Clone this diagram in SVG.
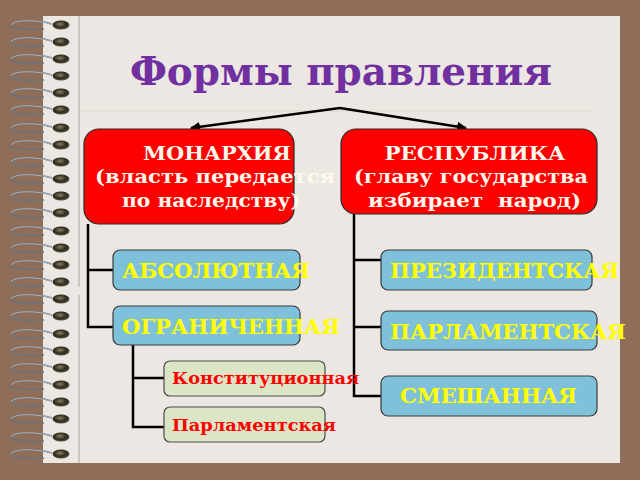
<svg xmlns="http://www.w3.org/2000/svg" xmlns:xlink="http://www.w3.org/1999/xlink" width="640" height="480" viewBox="0 0 640 480">
<style>
.t{font-family:"DejaVu Serif","Liberation Serif",serif;font-weight:bold}
.red{fill:#FF0000;stroke:#2a2a2a;stroke-width:1.2}
.blue{fill:#7FC1DB;stroke:#3a3a3a;stroke-width:1.2}
.green{fill:#DCE6C6;stroke:#4a4a4a;stroke-width:1.2}
.w{fill:#FFF8EC;font-size:19px}
.y{fill:#FFFF00;font-size:20.5px}
.r{fill:#FF0000;font-size:16.5px}
.ln{fill:none;stroke:#000;stroke-width:2.5}
</style>
<defs>
<radialGradient id="bead" cx="0.45" cy="0.4" r="0.6">
<stop offset="0" stop-color="#8a8060"/>
<stop offset="0.6" stop-color="#2e2a1e"/>
<stop offset="1" stop-color="#5a5444"/>
</radialGradient>
<marker id="ah" viewBox="0 0 10 10" refX="9" refY="5" markerWidth="4" markerHeight="4" orient="auto">
<path d="M0,0 L10,5 L0,10 z" fill="#000"/>
</marker>
<g id="ring">
<path d="M52,-1 C38,-5 14,-6 11,0 C9,4 30,5 44,4" fill="none" stroke="#6b7377" stroke-width="1.6"/>
<path d="M52,-1 C38,-5 14,-6 11,0" fill="none" stroke="#b8c4c8" stroke-width="0.8"/>
<ellipse cx="61" cy="0" rx="8.5" ry="4.5" fill="url(#bead)"/>
</g>
</defs>
<rect width="640" height="480" fill="#8E6D59"/>
<rect x="43" y="16" width="577" height="447" fill="#ECE7E3"/>
<line x1="79" y1="16" x2="79" y2="287" stroke="#C6C6C6" stroke-width="2"/>
<line x1="79" y1="295" x2="79" y2="463" stroke="#C6C6C6" stroke-width="2"/>
<line x1="80" y1="111" x2="590" y2="111" stroke="#E2D9C9" stroke-width="1"/>
<g id="spiral">
<use xlink:href="#ring" y="25"/><use xlink:href="#ring" y="42"/><use xlink:href="#ring" y="59"/><use xlink:href="#ring" y="76"/><use xlink:href="#ring" y="93"/><use xlink:href="#ring" y="110"/><use xlink:href="#ring" y="128"/><use xlink:href="#ring" y="145"/><use xlink:href="#ring" y="162"/><use xlink:href="#ring" y="179"/><use xlink:href="#ring" y="196"/><use xlink:href="#ring" y="213"/><use xlink:href="#ring" y="231"/><use xlink:href="#ring" y="248"/><use xlink:href="#ring" y="265"/><use xlink:href="#ring" y="282"/><use xlink:href="#ring" y="299"/><use xlink:href="#ring" y="316"/><use xlink:href="#ring" y="334"/><use xlink:href="#ring" y="351"/><use xlink:href="#ring" y="368"/><use xlink:href="#ring" y="385"/><use xlink:href="#ring" y="402"/><use xlink:href="#ring" y="419"/><use xlink:href="#ring" y="437"/><use xlink:href="#ring" y="454"/>
</g>
<text class="t" x="341" y="85" text-anchor="middle" font-size="40" fill="#7030A0" textLength="422" lengthAdjust="spacingAndGlyphs">Формы правления</text>
<g id="connectors">
<path class="ln" d="M340,108 L191,128" marker-end="url(#ah)"/>
<path class="ln" d="M340,108 L466,128" marker-end="url(#ah)"/>
<path class="ln" d="M88,224 V327 H113 M88,270 H113"/>
<path class="ln" d="M133,345 V427 H164 M133,378 H164"/>
<path class="ln" d="M354,214 V396 H381 M354,260 H381 M354,327 H381"/>
</g>
<g id="monarchy">
<rect class="red" x="84" y="129" width="210" height="95" rx="15"/>
<text class="t w" x="217" y="160" text-anchor="middle" textLength="148" lengthAdjust="spacingAndGlyphs">МОНАРХИЯ</text>
<text class="t w" x="95" y="183" textLength="240" lengthAdjust="spacingAndGlyphs">(власть передается</text>
<text class="t w" x="122" y="207" textLength="178" lengthAdjust="spacingAndGlyphs">по наследству)</text>
</g>
<g id="republic">
<rect class="red" x="341" y="129" width="256" height="85" rx="15"/>
<text class="t w" x="475" y="160" text-anchor="middle" textLength="181" lengthAdjust="spacingAndGlyphs">РЕСПУБЛИКА</text>
<text class="t w" x="354" y="183" textLength="234" lengthAdjust="spacingAndGlyphs">(главу государства</text>
<text class="t w" x="368" y="207" textLength="213" lengthAdjust="spacingAndGlyphs" xml:space="preserve">избирает  народ)</text>
</g>
<g id="absolute">
<rect class="blue" x="113" y="250" width="187" height="40" rx="7"/>
<text class="t y" x="122" y="278" textLength="188" lengthAdjust="spacingAndGlyphs">АБСОЛЮТНАЯ</text>
</g>
<g id="limited">
<rect class="blue" x="113" y="306" width="187" height="39" rx="7"/>
<text class="t y" x="122" y="334" textLength="218" lengthAdjust="spacingAndGlyphs">ОГРАНИЧЕННАЯ</text>
</g>
<g id="constitutional">
<rect class="green" x="164" y="361" width="161" height="35" rx="6"/>
<text class="t r" x="172" y="384" textLength="187" lengthAdjust="spacingAndGlyphs">Конституционная</text>
</g>
<g id="parl-monarchy">
<rect class="green" x="164" y="407" width="161" height="35" rx="6"/>
<text class="t r" x="172" y="431" textLength="164" lengthAdjust="spacingAndGlyphs">Парламентская</text>
</g>
<g id="presidential">
<rect class="blue" x="381" y="250" width="211" height="40" rx="7"/>
<text class="t y" x="390" y="278" textLength="229" lengthAdjust="spacingAndGlyphs">ПРЕЗИДЕНТСКАЯ</text>
</g>
<g id="parliamentary">
<rect class="blue" x="381" y="311" width="216" height="39" rx="7"/>
<text class="t y" x="390" y="339" textLength="236" lengthAdjust="spacingAndGlyphs">ПАРЛАМЕНТСКАЯ</text>
</g>
<g id="mixed">
<rect class="blue" x="381" y="376" width="216" height="40" rx="7"/>
<text class="t y" x="400" y="403" textLength="177" lengthAdjust="spacingAndGlyphs">СМЕШАННАЯ</text>
</g>
</svg>
